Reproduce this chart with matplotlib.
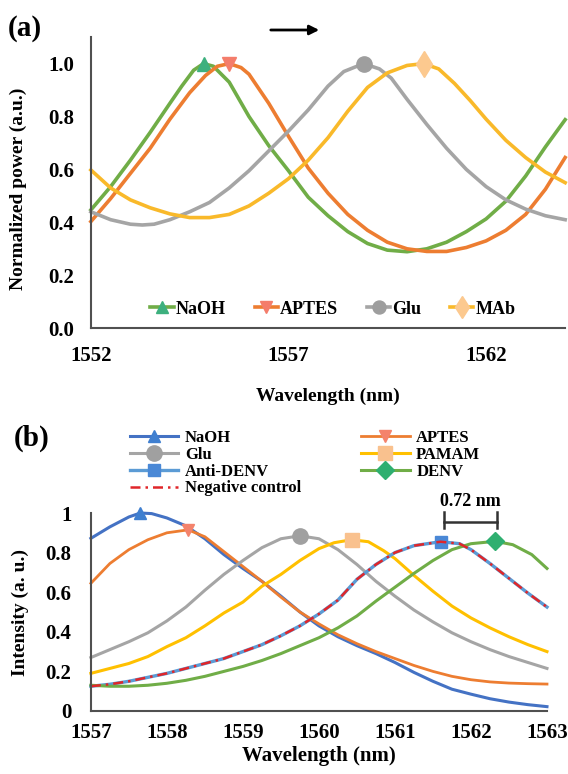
#%% Imports
import numpy as np
import matplotlib
matplotlib.use('Agg')
import matplotlib.pyplot as plt

plt.rcParams['font.family'] = ['Liberation Serif', 'DejaVu Serif']
plt.rcParams['font.weight'] = 'bold'
plt.rcParams['lines.solid_joinstyle'] = 'round'

#%% Dados do painel (a) - potencia normalizada
wl_naoh_a = [1552.0, 1552.5, 1553.0, 1553.5, 1554.0, 1554.3, 1554.6, 1554.85, 1555.1, 1555.5, 1556.0, 1556.5,
             1557.0, 1557.5, 1558.0, 1558.5, 1559.0, 1559.5, 1560.0, 1560.5, 1561.0, 1561.5, 1562.0, 1562.5,
             1563.0, 1563.5, 1564.0]
pw_naoh_a = [0.447, 0.535, 0.635, 0.74, 0.85, 0.915, 0.975, 1.0, 0.99, 0.93, 0.80, 0.69,
             0.595, 0.495, 0.425, 0.365, 0.32, 0.295, 0.289, 0.30, 0.325, 0.365, 0.413, 0.48,
             0.575, 0.685, 0.788]

wl_aptes_a = [1552.0, 1552.5, 1553.0, 1553.5, 1554.0, 1554.5, 1554.9, 1555.2, 1555.5, 1555.8, 1556.0, 1556.5,
              1557.0, 1557.5, 1558.0, 1558.5, 1559.0, 1559.5, 1560.0, 1560.5, 1561.0, 1561.5, 1562.0, 1562.5,
              1563.0, 1563.5, 1564.0]
pw_aptes_a = [0.403, 0.49, 0.585, 0.68, 0.79, 0.89, 0.955, 0.99, 1.0, 0.985, 0.96, 0.85,
              0.725, 0.605, 0.51, 0.43, 0.37, 0.325, 0.30, 0.29, 0.29, 0.305, 0.33, 0.37,
              0.43, 0.525, 0.645]

wl_glu_a = [1552.0, 1552.5, 1553.0, 1553.3, 1553.6, 1554.0, 1554.5, 1555.0, 1555.5, 1556.0, 1556.5, 1557.0,
            1557.5, 1558.0, 1558.4, 1558.9, 1559.3, 1559.6, 1560.0, 1560.5, 1561.0, 1561.5, 1562.0, 1562.5,
            1563.0, 1563.5, 1564.0]
pw_glu_a = [0.44, 0.41, 0.393, 0.39, 0.393, 0.41, 0.44, 0.475, 0.53, 0.595, 0.67, 0.745,
            0.825, 0.915, 0.97, 1.0, 0.98, 0.945, 0.865, 0.77, 0.68, 0.6, 0.535, 0.485,
            0.45, 0.425, 0.41]

wl_mab_a = [1552.0, 1552.5, 1553.0, 1553.5, 1554.0, 1554.5, 1555.0, 1555.5, 1556.0, 1556.5, 1557.0, 1557.5,
            1558.0, 1558.5, 1559.0, 1559.5, 1560.0, 1560.42, 1560.8, 1561.2, 1561.6, 1562.0, 1562.5, 1563.0,
            1563.5, 1564.0]
pw_mab_a = [0.598, 0.53, 0.485, 0.455, 0.432, 0.418, 0.418, 0.43, 0.462, 0.51, 0.565, 0.635,
            0.72, 0.82, 0.91, 0.965, 0.993, 1.0, 0.98, 0.925, 0.86, 0.79, 0.71, 0.645,
            0.59, 0.55]

#%% Dados do painel (b) - intensidade
wl_naoh_b = [1557.0, 1557.25, 1557.5, 1557.65, 1557.8, 1558.0, 1558.25, 1558.5, 1558.75, 1559.0, 1559.25, 1559.5,
             1559.75, 1560.0, 1560.25, 1560.5, 1560.75, 1561.0, 1561.25, 1561.5, 1561.75, 1562.0, 1562.25,
             1562.5, 1562.75, 1563.0]
in_naoh_b = [0.872, 0.93, 0.98, 1.0, 0.997, 0.975, 0.935, 0.87, 0.79, 0.72, 0.655, 0.58,
             0.50, 0.43, 0.375, 0.33, 0.29, 0.245, 0.195, 0.15, 0.11, 0.085, 0.062,
             0.045, 0.032, 0.022]

wl_aptes_b = [1557.0, 1557.25, 1557.5, 1557.75, 1558.0, 1558.28, 1558.5, 1558.75, 1559.0, 1559.25, 1559.5,
              1559.75, 1560.0, 1560.25, 1560.5, 1560.75, 1561.0, 1561.25, 1561.5, 1561.75, 1562.0, 1562.25,
              1562.5, 1562.75, 1563.0]
in_aptes_b = [0.645, 0.745, 0.815, 0.865, 0.9, 0.915, 0.88, 0.805, 0.73, 0.655, 0.575,
              0.5, 0.44, 0.385, 0.34, 0.30, 0.265, 0.23, 0.2, 0.175, 0.158, 0.147,
              0.141, 0.138, 0.136]

wl_glu_b = [1557.0, 1557.25, 1557.5, 1557.75, 1558.0, 1558.25, 1558.5, 1558.75, 1559.0, 1559.25, 1559.5,
            1559.75, 1560.0, 1560.25, 1560.5, 1560.75, 1561.0, 1561.25, 1561.5, 1561.75, 1562.0, 1562.25,
            1562.5, 1562.75, 1563.0]
in_glu_b = [0.27, 0.31, 0.35, 0.395, 0.455, 0.525, 0.61, 0.69, 0.76, 0.825, 0.87,
            0.885, 0.87, 0.815, 0.74, 0.655, 0.58, 0.51, 0.45, 0.395, 0.35, 0.31,
            0.275, 0.245, 0.215]

wl_pamam_b = [1557.0, 1557.25, 1557.5, 1557.75, 1558.0, 1558.25, 1558.5, 1558.75, 1559.0, 1559.25, 1559.5,
              1559.75, 1560.0, 1560.2, 1560.43, 1560.65, 1560.85, 1561.0, 1561.25, 1561.5, 1561.75, 1562.0,
              1562.25, 1562.5, 1562.75, 1563.0]
in_pamam_b = [0.19, 0.215, 0.24, 0.275, 0.325, 0.37, 0.43, 0.495, 0.55, 0.63, 0.69,
              0.76, 0.82, 0.85, 0.865, 0.855, 0.81, 0.77, 0.685, 0.605, 0.53, 0.47,
              0.42, 0.375, 0.335, 0.30]

wl_anti_b = [1557.0, 1557.25, 1557.5, 1557.75, 1558.0, 1558.25, 1558.5, 1558.75, 1559.0, 1559.25, 1559.5,
             1559.75, 1560.0, 1560.25, 1560.5, 1560.75, 1561.0, 1561.25, 1561.6, 1561.85, 1562.0, 1562.25,
             1562.5, 1562.75, 1563.0]
in_anti_b = [0.125, 0.135, 0.15, 0.17, 0.19, 0.215, 0.24, 0.265, 0.3, 0.335, 0.38,
             0.43, 0.49, 0.56, 0.665, 0.74, 0.8, 0.835, 0.855, 0.845, 0.815, 0.745,
             0.67, 0.595, 0.525]

wl_denv_b = [1557.0, 1557.25, 1557.5, 1557.75, 1558.0, 1558.25, 1558.5, 1558.75, 1559.0, 1559.25, 1559.5,
             1559.75, 1560.0, 1560.25, 1560.5, 1560.75, 1561.0, 1561.25, 1561.5, 1561.75, 1562.0, 1562.32,
             1562.55, 1562.8, 1563.0]
in_denv_b = [0.13, 0.125, 0.125, 0.13, 0.14, 0.155, 0.175, 0.2, 0.225, 0.255, 0.29,
             0.33, 0.37, 0.42, 0.48, 0.555, 0.625, 0.695, 0.76, 0.815, 0.845, 0.857,
             0.84, 0.79, 0.72]

ticks_a_x = [1552, 1557, 1562]
ticks_a_y = [0.0, 0.2, 0.4, 0.6, 0.8, 1.0]
ticks_b_x = [1557, 1558, 1559, 1560, 1561, 1562, 1563]
ticks_b_y = [0, 0.2, 0.4, 0.6, 0.8, 1]
ticks_b_ylab = ['0', '0.2', '0.4', '0.6', '0.8', '1']

# deslocamento entre Anti-DENV e DENV
shift_lo = 1561.64
shift_hi = 1562.34
shift_txt = '0.72 nm'

#%% Figura
fig = plt.figure(figsize=(5.68, 7.74), dpi=100)


def estilo(ax):
    ax.spines['top'].set_visible(False)
    ax.spines['right'].set_visible(False)
    for s in ['left', 'bottom']:
        ax.spines[s].set_color('#505050')
        ax.spines[s].set_linewidth(1.5)
    ax.tick_params(length=0, labelsize=15)


def pico(y):
    return [int(np.argmax(y))]


#%% Painel (a)
ax1 = fig.add_axes([0.160, 0.576, 0.835, 0.376])
ax1.plot(wl_naoh_a, pw_naoh_a, color='#70AD47', lw=2.6, marker='^', ms=10, mfc='#3DB07E', mec='#3DB07E',
         markevery=pico(pw_naoh_a), label='NaOH', clip_on=False)
ax1.plot(wl_aptes_a, pw_aptes_a, color='#ED7D31', lw=2.6, marker='v', ms=10, mfc='#F47D6B', mec='#F47D6B',
         markevery=pico(pw_aptes_a), label='APTES', clip_on=False)
ax1.plot(wl_glu_a, pw_glu_a, color='#A5A5A5', lw=2.6, marker='o', ms=11, mfc='#9E9E9E', mec='#9E9E9E',
         markevery=pico(pw_glu_a), label='Glu', clip_on=False)
ax1.plot(wl_mab_a, pw_mab_a, color='#F9B92A', lw=2.6, marker='d', ms=13, mfc='#FCC98F', mec='#FCC98F',
         markevery=pico(pw_mab_a), label='MAb', clip_on=False)
ax1.set_xlim(1552, 1564)
ax1.set_ylim(0, 1.1)
ax1.set_xticks(ticks_a_x)
ax1.set_yticks(ticks_a_y)
ax1.set_yticklabels(['%.1f' % t for t in ticks_a_y])
estilo(ax1)
ax1.tick_params(axis='x', pad=13)
ax1.tick_params(axis='y', pad=12)
ax1.set_xlabel('Wavelength (nm)', fontsize=14, fontweight='bold')
ax1.xaxis.set_label_coords(0.5, -0.205)
ax1.set_ylabel('Normalized power (a.u.)', fontsize=14, fontweight='bold')
ax1.yaxis.set_label_coords(-0.135, 0.48)
ax1.legend(loc='center', bbox_to_anchor=(0.51, 0.065), ncol=4, frameon=False, fontsize=13,
           handlelength=1.3, handletextpad=0.1, columnspacing=1.6, markerscale=0.85)
ax1.annotate('', xy=(322 / 568, 1 - 30 / 774), xytext=(268 / 568, 1 - 30 / 774),
             xycoords='figure fraction', textcoords='figure fraction',
             arrowprops=dict(arrowstyle='-|>', color='black', lw=2, mutation_scale=14))
fig.text(8 / 568, 1 - 28 / 774, '(a)', fontsize=21, fontweight='bold', va='center')

#%% Painel (b)
ax2 = fig.add_axes([0.160, 0.0814, 0.803, 0.2558])
ax2.plot(wl_naoh_b, in_naoh_b, color='#4472C4', lw=2.2, marker='^', ms=9, mfc='#3F7FD0', mec='#3F7FD0',
         markevery=pico(in_naoh_b), label='NaOH', clip_on=False)
ax2.plot(wl_aptes_b, in_aptes_b, color='#ED7D31', lw=2.0, marker='v', ms=9, mfc='#F4836C', mec='#F4836C',
         markevery=pico(in_aptes_b), label='APTES', clip_on=False)
ax2.plot(wl_glu_b, in_glu_b, color='#A5A5A5', lw=2.2, marker='o', ms=11, mfc='#A0A0A0', mec='#A0A0A0',
         markevery=pico(in_glu_b), label='Glu', clip_on=False)
ax2.plot(wl_pamam_b, in_pamam_b, color='#FFC000', lw=2.2, marker='s', ms=10, mfc='#F9C18E', mec='#F9C18E',
         markevery=pico(in_pamam_b), label='PAMAM', clip_on=False)
ax2.plot(wl_anti_b, in_anti_b, color='#5B9BD5', lw=2.4, marker='s', ms=9, mfc='#4A88D6', mec='#4A88D6',
         markevery=pico(in_anti_b), label='Anti-DENV', clip_on=False)
ax2.plot(wl_denv_b, in_denv_b, color='#70AD47', lw=2.2, marker='D', ms=9, mfc='#2FAF70', mec='#2FAF70',
         markevery=pico(in_denv_b), label='DENV', clip_on=False)
ax2.plot(wl_anti_b, in_anti_b, color='#E0262A', lw=1.8, ls=(0, (4, 2, 1, 2)), label='Negative control')
ax2.set_xlim(1557, 1563)
ax2.set_ylim(0, 1.0)
ax2.set_xticks(ticks_b_x)
ax2.set_yticks(ticks_b_y)
ax2.set_yticklabels(ticks_b_ylab)
estilo(ax2)
ax2.tick_params(axis='x', pad=9)
ax2.tick_params(axis='y', pad=14)
ax2.set_xlabel('Wavelength (nm)', fontsize=15, fontweight='bold')
ax2.xaxis.set_label_coords(0.5, -0.175)
ax2.set_ylabel('Intensity (a. u.)', fontsize=14, fontweight='bold')
ax2.yaxis.set_label_coords(-0.135, 0.5)

# legenda em duas colunas
h, l = ax2.get_legend_handles_labels()
ordem = ['NaOH', 'Glu', 'Anti-DENV', 'Negative control', 'APTES', 'PAMAM', 'DENV']
hh = [h[l.index(o)] for o in ordem]
ax2.legend(hh, ordem, loc='upper left', bbox_to_anchor=(130 / 568, 1 - 430 / 774),
           bbox_transform=fig.transFigure, ncol=2, frameon=False, fontsize=12,
           handlelength=2.9, handletextpad=0.4, columnspacing=3.6, labelspacing=0.05,
           borderpad=0, borderaxespad=0)

# marcacao do deslocamento de 0.72 nm
ax2.plot([shift_lo, shift_hi], [0.956, 0.956], color='#333333', lw=1.8, clip_on=False)
ax2.plot([shift_lo, shift_lo], [0.923, 1.006], color='#333333', lw=1.8, clip_on=False)
ax2.plot([shift_hi, shift_hi], [0.923, 1.006], color='#333333', lw=1.8, clip_on=False)
ax2.text((shift_lo + shift_hi) / 2, 1.015, shift_txt, ha='center', va='bottom',
         fontsize=13, fontweight='bold')
fig.text(14 / 568, 1 - 438 / 774, '(b)', fontsize=21, fontweight='bold', va='center')

fig.savefig('out.png', dpi=100)
